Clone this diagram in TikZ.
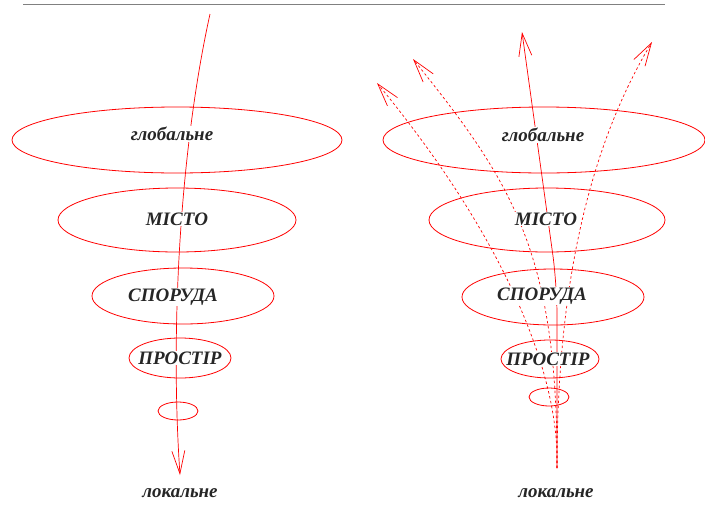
\documentclass[tikz,border=0pt]{standalone}
\usepackage{fontspec}
\setmainfont{Liberation Serif}
\usetikzlibrary{shapes.geometric,arrows.meta}
\tikzset{
  ring/.style={ellipse,draw=red,line width=0.8pt,inner sep=0pt},
  lbl/.style={font=\fontsize{19}{22}\selectfont\bfseries\itshape,text=black!85,fill=white,inner sep=1pt},
  endlbl/.style={font=\fontsize{19}{22}\selectfont\bfseries\itshape,text=black!85,inner sep=1pt},
  flow/.style={draw=red,line width=0.7pt,-{Straight Barb[length=23pt,width=13pt]}},
  flowdash/.style={flow,dash pattern=on 2.5pt off 2.5pt}
}
\begin{document}
\begin{tikzpicture}[x=1pt,y=-1pt]
\useasboundingbox (0,0) rectangle (705,504);
\fill[white] (0,0) rectangle (705,504);
% top rule
\coordinate (ruleL) at (23,4.5);
\coordinate (ruleR) at (665,4.5);
\draw[gray,line width=1.2pt] (ruleL) -- (ruleR);
% left rings
\node[ring,minimum width=330pt,minimum height=66pt] (gL) at (177,140) {};
\node[ring,minimum width=238pt,minimum height=64pt] (mL) at (177,220) {};
\node[ring,minimum width=182pt,minimum height=56pt] (sL) at (183,296) {};
\node[ring,minimum width=102pt,minimum height=40pt] (pL) at (180,358) {};
\node[ring,minimum width=40pt,minimum height=18pt] (lL) at (178,411) {};
% right rings
\node[ring,minimum width=322pt,minimum height=66pt] (gR) at (544,140) {};
\node[ring,minimum width=236pt,minimum height=64pt] (mR) at (547,220) {};
\node[ring,minimum width=182pt,minimum height=56pt] (sR) at (553,297) {};
\node[ring,minimum width=98pt,minimum height=38pt] (pR) at (550,359) {};
\node[ring,minimum width=40pt,minimum height=18pt] (lR) at (549,397) {};
% left arrow
\coordinate (Ltop) at (210,14);
\coordinate (Lbot) at (180,475);
\draw[flow] (Ltop) .. controls (180,150) and (170,330) .. (Lbot);
% right arrows
\coordinate (Rbot) at (557,468);
\coordinate (Rtop) at (522,32);
\coordinate (Rright) at (652,42);
\coordinate (Rmid) at (413,59);
\coordinate (Rleft) at (377,83);
\draw[flow,rounded corners=30pt] (Rbot) -- (557,285) -- (Rtop);
\draw[flowdash] (Rbot) .. controls (557,330) and (575,170) .. (Rright);
\draw[flowdash] (Rbot) .. controls (558,250) and (510,180) .. (Rmid);
\draw[flowdash] (Rbot) .. controls (560,360) and (490,220) .. (Rleft);
% labels left
\node[lbl] (tgL) at (172,134) {глобальне};
\node[lbl] (tmL) at (177,219) {МІСТО};
\node[lbl] (tsL) at (173,297) {СПОРУДА};
\node[lbl] (tpL) at (180,358) {ПРОСТІР};
\node[endlbl] (tlL) at (180,493) {локальне};
% labels right
\node[lbl] (tgR) at (543,135) {глобальне};
\node[lbl] (tmR) at (546,219) {МІСТО};
\node[lbl] (tsR) at (542,296) {СПОРУДА};
\node[lbl] (tpR) at (548,359) {ПРОСТІР};
\node[endlbl] (tlR) at (556,493) {локальне};
\end{tikzpicture}
\end{document}
